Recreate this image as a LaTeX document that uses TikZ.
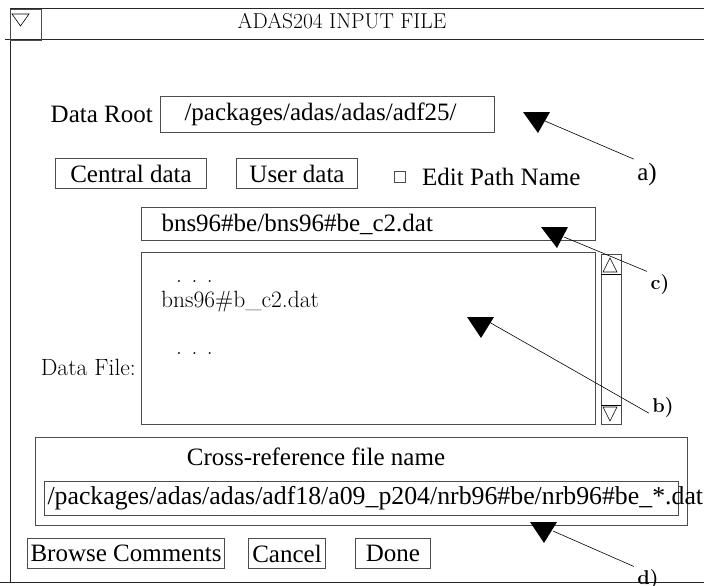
\documentclass[tikz,border=0pt]{standalone}
\usepackage{fontspec}
\setmainfont{Liberation Serif}
\newfontfamily\lmfont{Latin Modern Roman}
\usetikzlibrary{positioning}

\newcommand{\guifont}{\fontsize{25}{28}\selectfont}
\newcommand{\listfont}{\lmfont\fontsize{23.5}{27}\selectfont}
\newcommand{\tagfont}{\lmfont\bfseries\fontsize{20}{24}\selectfont}

\tikzset{
  frameline/.style={line width=1pt, black!85},
  widget/.style={draw=black!70, line width=1pt, anchor=north west, inner sep=0pt, font=\guifont},
  button/.style={widget, minimum height=30pt, align=center},
  entry/.style={widget, align=left},
  leader/.style={line width=0.6pt},
}

\begin{document}
\begin{tikzpicture}[x=1pt, y=-1pt]
      \useasboundingbox (0,0) rectangle (704,586);

      % Define the window frame and the title bar
      \draw[frameline] (10,9) -- (704,9);
      \draw[frameline] (5,40) -- (704,40);
      \draw[frameline] (10,9) -- (10,582);
      \draw[frameline] (0,582) -- (704,582);
      \node[widget, minimum width=31pt, minimum height=31pt] (menu) at (10,9) {};
      \draw[line width=0.6pt] (12,14) -- (29,14) -- (20.5,26) -- cycle;
      \node[font=\lmfont\fontsize{21.5}{24}\selectfont] (title) at (342,21) {ADAS204 INPUT FILE};

      % Define the data root row
      \node[entry, minimum width=334pt, minimum height=36pt, inner xsep=24pt, text width=286pt] (rootbox) at (160,96) {/packages/adas/adas/adf25/};
      \node[font=\guifont, inner sep=0pt, left=7pt of rootbox] (rootlabel) {Data Root};

      % Define the source buttons
      \node[button, minimum width=151pt] (central) at (55,158) {Central data};
      \node[button, minimum width=121pt] (user) at (236,158) {User data};
      \node[draw=black!70, line width=0.8pt, minimum size=11pt, inner sep=0pt] (editbox) at (400,177) {};
      \node[font=\guifont, inner sep=0pt, right=16pt of editbox] (editlabel) {Edit Path Name};

      % Define the file selection
      \node[entry, minimum width=454pt, minimum height=33pt, inner xsep=20pt, text width=414pt] (filebox) at (141,207) {bns96\#be/bns96\#be\_c2.dat};
      \node[widget, minimum width=454pt, minimum height=172pt] (listbox) at (141,252) {};
      \node[widget, minimum width=20pt, minimum height=170pt] (scroll) at (601,254) {};
      \draw[line width=0.6pt] (603,272) -- (617,272) -- (610,258) -- cycle;
      \draw[line width=0.6pt] (601,274) -- (621,274);
      \draw[line width=0.6pt] (603,407) -- (617,407) -- (610,421) -- cycle;
      \draw[line width=0.6pt] (601,405) -- (621,405);
      \node[font=\listfont, inner sep=0pt, anchor=base west] (dotsa) at (176,282) {. . .};
      \node[font=\listfont, inner sep=0pt, anchor=base west] (listitem) at (161,307) {bns96\#b\_c2.dat};
      \node[font=\listfont, inner sep=0pt, anchor=base west] (dotsb) at (176,354) {. . .};
      \node[font=\listfont, inner sep=0pt, anchor=east] (filelabel) at (136,367) {Data File:};

      % Define the cross-reference group
      \node[widget, minimum width=652pt, minimum height=88pt] (xref) at (35,437) {};
      \node[font=\guifont] (xreftitle) at (316,457) {Cross-reference file name};
      \node[entry, minimum width=634pt, minimum height=34pt, inner xsep=3pt, text width=628pt, font=\fontsize{25.8}{28}\selectfont] (xrefbox) at (44,481) {/packages/adas/adas/adf18/a09\_p204/nrb96\#be/nrb96\#be\_*.dat};

      % Define the bottom buttons
      \node[button, minimum width=197pt] (browse) at (27,538) {Browse Comments};
      \node[button, minimum width=77pt] (cancel) at (248,538) {Cancel};
      \node[button, minimum width=75pt] (done) at (355,538) {Done};

      % Draw the pointer marks and their tags
      \coordinate (tipa) at (538,133);
      \fill (tipa) -- ++(-15,-21) -- ++(27,0) -- cycle;
      \coordinate (hooka) at (545,121);
      \node[font=\guifont] (taga) at (647,174) {a)};
      \draw[leader] (hooka) -- (taga.north west);

      \coordinate (tipc) at (557,248);
      \fill (tipc) -- ++(-16,-21) -- ++(27,0) -- cycle;
      \coordinate (hookc) at (564,237);
      \node[font=\tagfont] (tagc) at (660,285) {c)};
      \draw[leader] (hookc) -- (tagc.north west);

      \coordinate (tipb) at (481,338);
      \fill (tipb) -- ++(-14,-21) -- ++(27,0) -- cycle;
      \coordinate (hookb) at (489,322);
      \node[font=\tagfont] (tagb) at (663,408) {b)};
      \draw[leader] (hookb) -- (tagb.200);

      \coordinate (tipd) at (544,543);
      \fill (tipd) -- ++(-14,-21) -- ++(27,0) -- cycle;
      \coordinate (hookd) at (553,531);
      \node[font=\tagfont] (tagd) at (648,580) {d)};
      \draw[leader] (hookd) -- (tagd.north west);
\end{tikzpicture}
\end{document}
